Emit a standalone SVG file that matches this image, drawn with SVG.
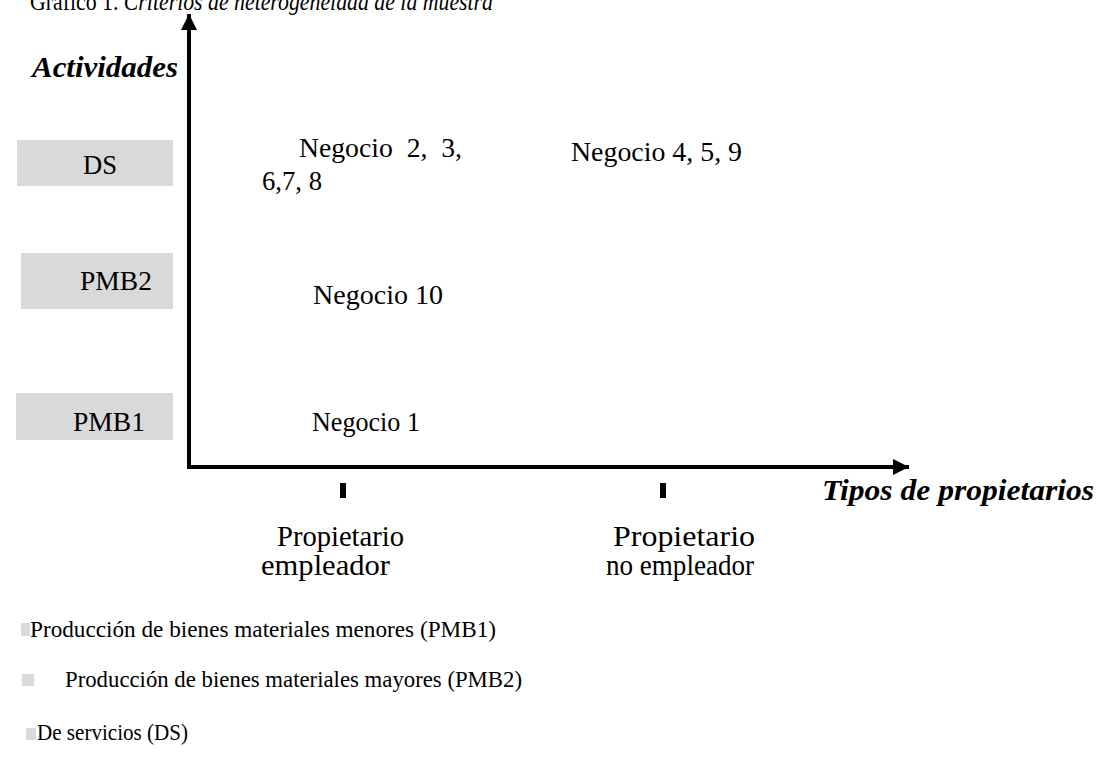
<svg xmlns="http://www.w3.org/2000/svg" width="1099" height="764" viewBox="0 0 1099 764">
<style>
text{font-family:"Liberation Serif","Times New Roman",serif;fill:#000}
.lbl{font-size:27px}
.axis{font-size:30px;font-weight:bold;font-style:italic}
.own{font-size:30px}
.leg{font-size:24px}
.box{fill:#d9d9d9}
.ax{stroke:#000;stroke-width:4;fill:none}
</style>
<defs>
<marker id="ah" markerUnits="userSpaceOnUse" markerWidth="18" markerHeight="16" refX="16" refY="8" orient="auto">
<path d="M0,0 L16,8 L0,16 Z" fill="#000"/>
</marker>
</defs>
<rect width="1099" height="764" fill="#fff"/>
<g id="title"><text x="30" y="10" font-size="26" textLength="463" lengthAdjust="spacingAndGlyphs">Gráfico 1. <tspan font-style="italic">Criterios de heterogeneidad de la muestra</tspan></text></g>
<g id="connectors">
<path class="ax" d="M189,467 L189,14" marker-end="url(#ah)"/>
<path class="ax" d="M187,467 L909,467" marker-end="url(#ah)"/>
<rect x="340" y="483" width="6" height="15" fill="#000"/>
<rect x="660" y="483" width="6" height="15" fill="#000"/>
</g>
<g id="axis-y-label"><text class="axis" x="32" y="77" textLength="146" lengthAdjust="spacingAndGlyphs">Actividades</text></g>
<g id="axis-x-label"><text class="axis" x="822" y="500" font-size="29" textLength="272" lengthAdjust="spacingAndGlyphs">Tipos de propietarios</text></g>
<g id="cat-DS"><rect class="box" x="17" y="140" width="156" height="46"/><text class="lbl" x="83" y="174" textLength="34" lengthAdjust="spacingAndGlyphs">DS</text></g>
<g id="cat-PMB2"><rect class="box" x="21" y="253" width="152" height="56"/><text class="lbl" x="80" y="290" textLength="72" lengthAdjust="spacingAndGlyphs">PMB2</text></g>
<g id="cat-PMB1"><rect class="box" x="16" y="393" width="157" height="47"/><text class="lbl" x="73" y="431" textLength="72" lengthAdjust="spacingAndGlyphs">PMB1</text></g>
<g id="neg-2-3-6-7-8"><text class="lbl" x="299" y="157" xml:space="preserve" textLength="163" lengthAdjust="spacingAndGlyphs">Negocio  2,  3,</text><text class="lbl" x="262" y="190" textLength="60" lengthAdjust="spacingAndGlyphs">6,7, 8</text></g>
<g id="neg-4-5-9"><text class="lbl" x="571" y="161" textLength="171" lengthAdjust="spacingAndGlyphs">Negocio 4, 5, 9</text></g>
<g id="neg-10"><text class="lbl" x="313" y="304" textLength="130" lengthAdjust="spacingAndGlyphs">Negocio 10</text></g>
<g id="neg-1"><text class="lbl" x="312" y="431" textLength="108" lengthAdjust="spacingAndGlyphs">Negocio 1</text></g>
<g id="owner-employer"><text class="own" x="277" y="546" textLength="127" lengthAdjust="spacingAndGlyphs">Propietario</text><text class="own" x="261" y="575" textLength="129" lengthAdjust="spacingAndGlyphs">empleador</text></g>
<g id="owner-nonemployer"><text class="own" x="613" y="546" textLength="142" lengthAdjust="spacingAndGlyphs">Propietario</text><text class="own" x="606" y="575" textLength="148" lengthAdjust="spacingAndGlyphs">no empleador</text></g>
<g id="legend-PMB1"><rect class="box" x="21" y="623" width="9" height="13"/><text class="leg" x="30" y="637" textLength="466" lengthAdjust="spacingAndGlyphs">Producción de bienes materiales menores (PMB1)</text></g>
<g id="legend-PMB2"><rect class="box" x="22" y="674" width="12" height="12"/><text class="leg" x="65" y="687" textLength="457" lengthAdjust="spacingAndGlyphs">Producción de bienes materiales mayores (PMB2)</text></g>
<g id="legend-DS"><rect class="box" x="26" y="728" width="10" height="12"/><text class="leg" x="37" y="740" textLength="151" lengthAdjust="spacingAndGlyphs">De servicios (DS)</text></g>
</svg>
